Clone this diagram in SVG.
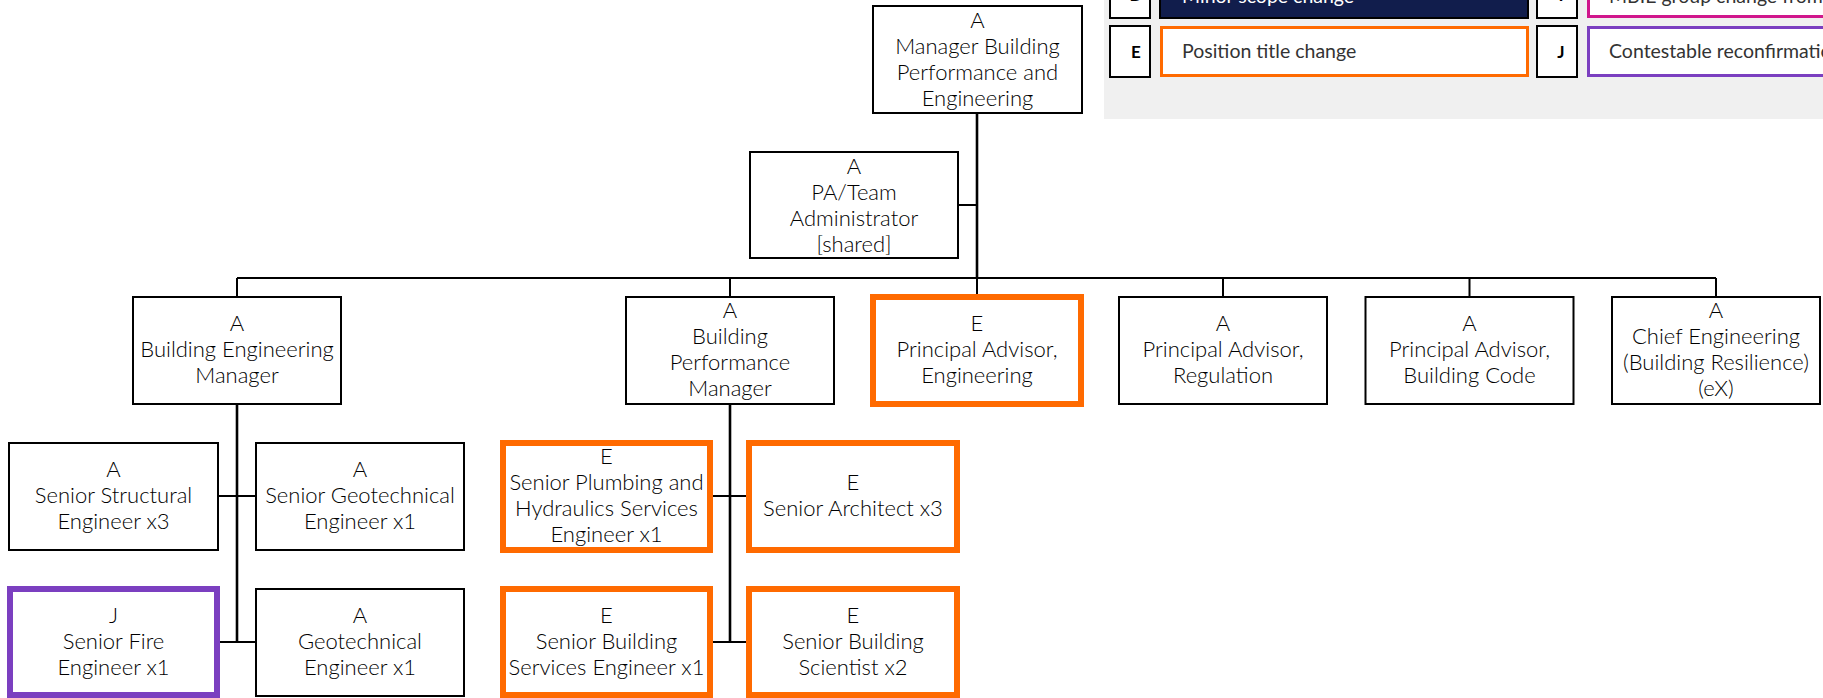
<svg xmlns="http://www.w3.org/2000/svg" width="1823" height="698" viewBox="0 0 1823 698">
  <style>
    .box { fill: #fff; stroke: #000; stroke-width: 2; }
    .chg-e { fill: #fff; stroke: #ff6a00; stroke-width: 6; }
    .chg-j { fill: #fff; stroke: #7b3fc0; stroke-width: 6; }
    .lbl { font-family: Lato, "Liberation Sans", sans-serif; font-weight: 300; font-size: 22px; fill: #000; text-anchor: middle; }
    .conn { stroke: #000; stroke-width: 2; fill: none; }
    .trunk { stroke: #000; stroke-width: 2.6; fill: none; }
    .leg-txt { font-family: Lato, "Liberation Sans", sans-serif; font-size: 19.5px; fill: #333; }
    .leg-key { font-family: Lato, "Liberation Sans", sans-serif; font-weight: 700; font-size: 17px; fill: #000; text-anchor: middle; }
    .keybox { fill: #fff; stroke: #000; stroke-width: 2; }
  </style>

  <!-- legend panel -->
  <g id="legend">
    <rect x="1104" y="0" width="719" height="119" fill="#f0f0f0"/>
    <rect class="keybox" x="1110" y="-33" width="40" height="51"/>
    <text class="leg-key" x="1136" y="1">D</text>
    <rect x="1160" y="-33" width="368" height="51" fill="#111d4c" stroke="#000" stroke-width="2"/>
    <text class="leg-txt" x="1182" y="3" style="fill:#fff">Minor scope change</text>
    <rect class="keybox" x="1537" y="-33" width="40" height="51"/>
    <text class="leg-key" x="1561" y="1">I</text>
    <rect x="1588.5" y="-33" width="240" height="49.5" fill="#fff" stroke="#d0168c" stroke-width="3"/>
    <text class="leg-txt" x="1609" y="3">MBIE group change from</text>

    <rect class="keybox" x="1110" y="26" width="40" height="51"/>
    <text class="leg-key" x="1136" y="58">E</text>
    <rect x="1161.5" y="27.5" width="366" height="48" fill="#fff" stroke="#ff6a00" stroke-width="3"/>
    <text class="leg-txt" x="1182" y="58">Position title change</text>
    <rect class="keybox" x="1537" y="26" width="40" height="51"/>
    <text class="leg-key" x="1561" y="58">J</text>
    <rect x="1588.5" y="27.5" width="240" height="48" fill="#fff" stroke="#7b3fc0" stroke-width="3"/>
    <text class="leg-txt" x="1609" y="58">Contestable reconfirmation</text>
  </g>

  <!-- reporting lines -->
  <g id="connectors">
    <path class="trunk" d="M977 113 V278"/>
    <path class="conn" d="M958 205 H977"/>
    <path class="conn" d="M237 278 H1716"/>
    <path class="conn" d="M237 278 V297 M730 278 V297 M977 278 V297 M1223 278 V297 M1469.5 278 V297 M1716 278 V297"/>
    <path class="trunk" d="M237 404 V642"/>
    <path class="conn" d="M218 496 H256 M217 642 H256"/>
    <path class="trunk" d="M730 404 V642"/>
    <path class="conn" d="M710 496 H749 M710 642 H749"/>
  </g>

  <g id="mgr-bpe">
    <rect class="box" x="873" y="6" width="209" height="107"/>
    <text class="lbl" x="977.5" y="27.5">A</text>
    <text class="lbl" x="977.5" y="53.5">Manager Building</text>
    <text class="lbl" x="977.5" y="79.5">Performance and</text>
    <text class="lbl" x="977.5" y="105.5">Engineering</text>
  </g>

  <g id="pa-admin">
    <rect class="box" x="750" y="152" width="208" height="106"/>
    <text class="lbl" x="854" y="173.5">A</text>
    <text class="lbl" x="854" y="199.5">PA/Team</text>
    <text class="lbl" x="854" y="225.5">Administrator</text>
    <text class="lbl" x="854" y="251.5">[shared]</text>
  </g>

  <g id="bldg-eng-mgr">
    <rect class="box" x="133" y="297" width="208" height="107"/>
    <text class="lbl" x="237" y="331">A</text>
    <text class="lbl" x="237" y="357">Building Engineering</text>
    <text class="lbl" x="237" y="383">Manager</text>
  </g>

  <g id="bldg-perf-mgr">
    <rect class="box" x="626" y="297" width="208" height="107"/>
    <text class="lbl" x="730" y="318">A</text>
    <text class="lbl" x="730" y="344">Building</text>
    <text class="lbl" x="730" y="370">Performance</text>
    <text class="lbl" x="730" y="396">Manager</text>
  </g>

  <g id="pa-engineering">
    <rect class="chg-e" x="873" y="297" width="208" height="107"/>
    <text class="lbl" x="977" y="331">E</text>
    <text class="lbl" x="977" y="357">Principal Advisor,</text>
    <text class="lbl" x="977" y="383">Engineering</text>
  </g>

  <g id="pa-regulation">
    <rect class="box" x="1119" y="297" width="208" height="107"/>
    <text class="lbl" x="1223" y="331">A</text>
    <text class="lbl" x="1223" y="357">Principal Advisor,</text>
    <text class="lbl" x="1223" y="383">Regulation</text>
  </g>

  <g id="pa-building-code">
    <rect class="box" x="1365.5" y="297" width="208" height="107"/>
    <text class="lbl" x="1469.5" y="331">A</text>
    <text class="lbl" x="1469.5" y="357">Principal Advisor,</text>
    <text class="lbl" x="1469.5" y="383">Building Code</text>
  </g>

  <g id="chief-eng">
    <rect class="box" x="1612" y="297" width="208" height="107"/>
    <text class="lbl" x="1716" y="318">A</text>
    <text class="lbl" x="1716" y="344">Chief Engineering</text>
    <text class="lbl" x="1716" y="370">(Building Resilience)</text>
    <text class="lbl" x="1716" y="396">(eX)</text>
  </g>

  <g id="sr-structural">
    <rect class="box" x="9" y="443" width="209" height="107"/>
    <text class="lbl" x="113.5" y="477">A</text>
    <text class="lbl" x="113.5" y="503">Senior Structural</text>
    <text class="lbl" x="113.5" y="529">Engineer x3</text>
  </g>

  <g id="sr-geotech">
    <rect class="box" x="256" y="443" width="208" height="107"/>
    <text class="lbl" x="360" y="477">A</text>
    <text class="lbl" x="360" y="503">Senior Geotechnical</text>
    <text class="lbl" x="360" y="529">Engineer x1</text>
  </g>

  <g id="sr-fire">
    <rect class="chg-j" x="10" y="589" width="207" height="106"/>
    <text class="lbl" x="113.5" y="623">J</text>
    <text class="lbl" x="113.5" y="649">Senior Fire</text>
    <text class="lbl" x="113.5" y="675">Engineer x1</text>
  </g>

  <g id="geotech">
    <rect class="box" x="256" y="589" width="208" height="107"/>
    <text class="lbl" x="360" y="623">A</text>
    <text class="lbl" x="360" y="649">Geotechnical</text>
    <text class="lbl" x="360" y="675">Engineer x1</text>
  </g>

  <g id="sr-plumbing">
    <rect class="chg-e" x="503" y="443" width="207" height="107"/>
    <text class="lbl" x="606.5" y="464">E</text>
    <text class="lbl" x="606.5" y="490">Senior Plumbing and</text>
    <text class="lbl" x="606.5" y="516">Hydraulics Services</text>
    <text class="lbl" x="606.5" y="542">Engineer x1</text>
  </g>

  <g id="sr-architect">
    <rect class="chg-e" x="749" y="443" width="208" height="107"/>
    <text class="lbl" x="853" y="490">E</text>
    <text class="lbl" x="853" y="516">Senior Architect x3</text>
  </g>

  <g id="sr-bldg-services">
    <rect class="chg-e" x="503" y="589" width="207" height="106"/>
    <text class="lbl" x="606.5" y="623">E</text>
    <text class="lbl" x="606.5" y="649">Senior Building</text>
    <text class="lbl" x="606.5" y="675">Services Engineer x1</text>
  </g>

  <g id="sr-bldg-scientist">
    <rect class="chg-e" x="749" y="589" width="208" height="106"/>
    <text class="lbl" x="853" y="623">E</text>
    <text class="lbl" x="853" y="649">Senior Building</text>
    <text class="lbl" x="853" y="675">Scientist x2</text>
  </g>
</svg>
